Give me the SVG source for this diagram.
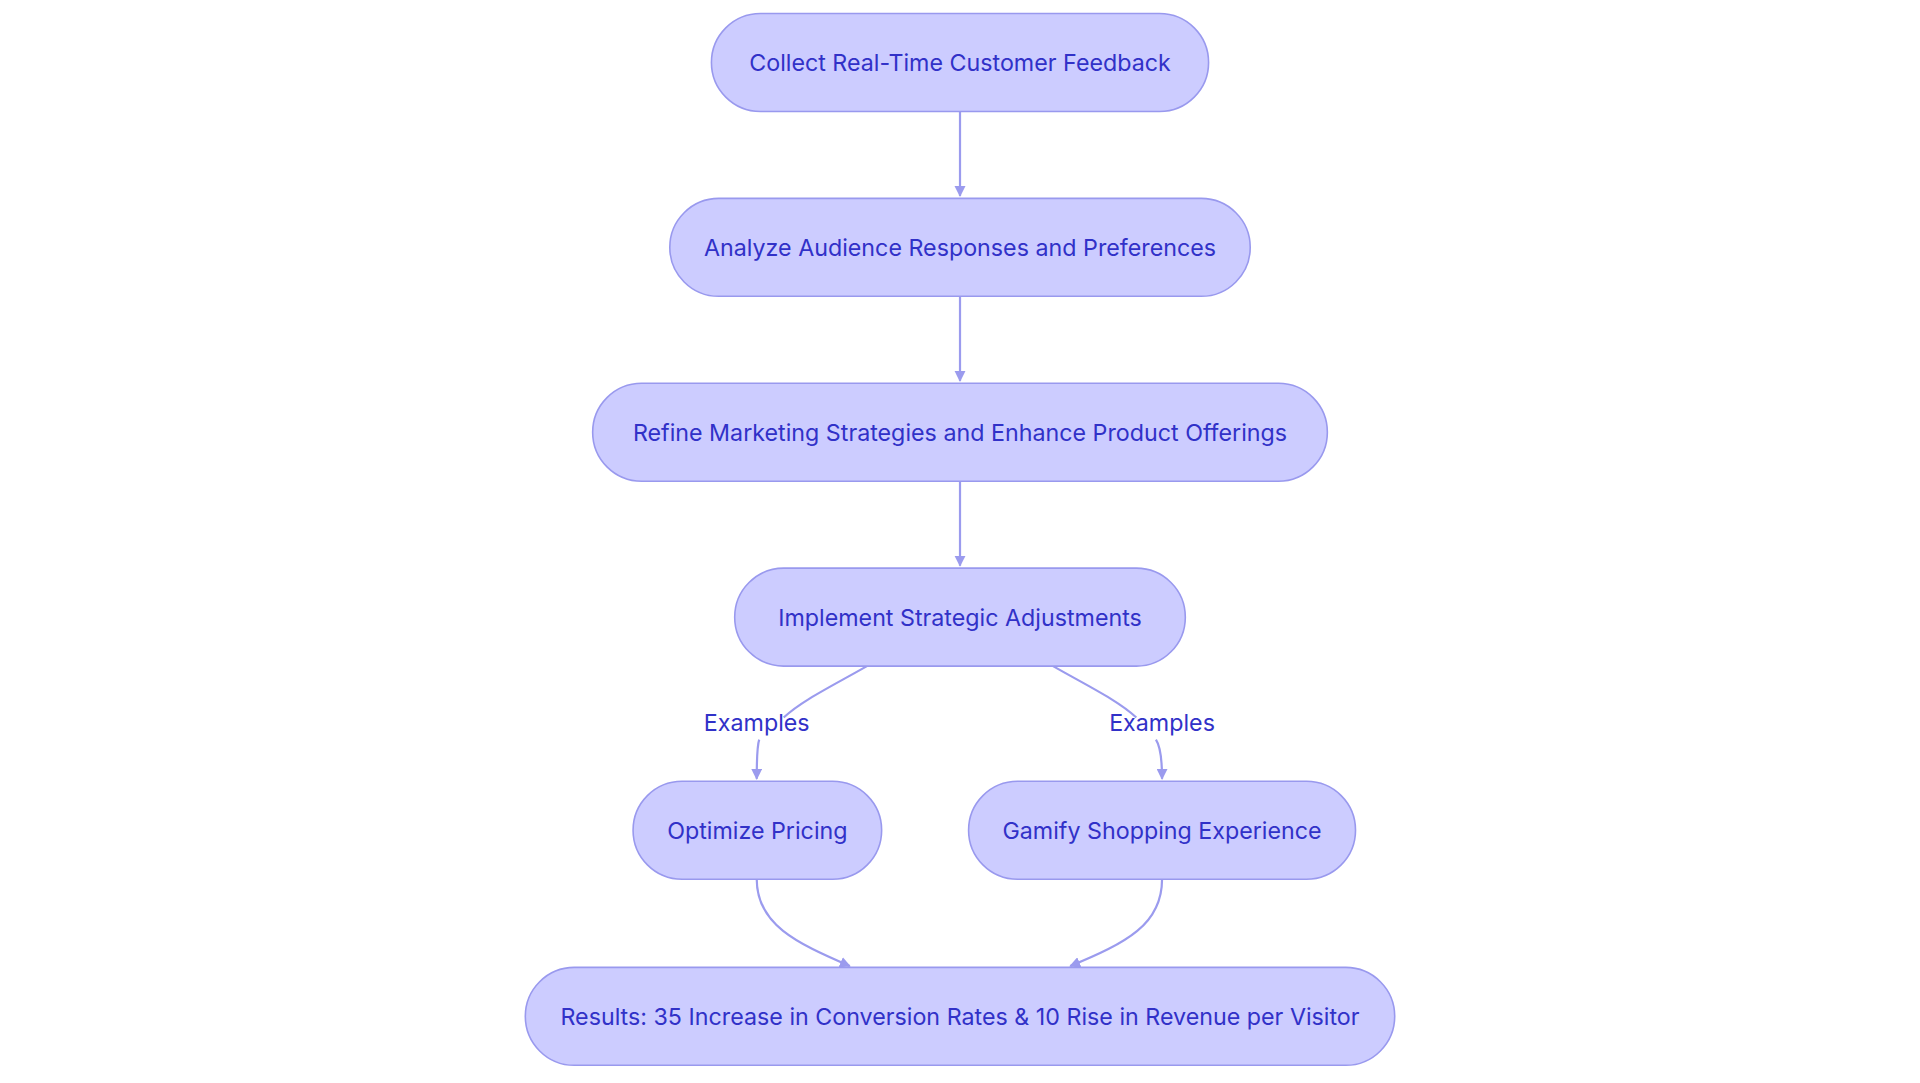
<svg xmlns="http://www.w3.org/2000/svg" width="1920" height="1083" viewBox="0 0 1920 1083">
<style>
.n{fill:#ccccff;stroke:#9999ee;stroke-width:1.3}
.t{font-family:Inter,"Noto Sans",sans-serif;font-size:19px;fill:#3131c8;text-anchor:middle;dominant-baseline:central}
.e{fill:none;stroke:#9b9bee;stroke-width:2.2}
</style>
<defs><marker id="a" viewBox="0 0 10 10" refX="9" refY="5" markerWidth="8" markerHeight="8" markerUnits="userSpaceOnUse" orient="auto"><path d="M0,0L10,5L0,10z" fill="#9b9bee"/></marker>
<marker id="b" viewBox="0 0 10 10" refX="9" refY="5" markerWidth="9" markerHeight="9" orient="auto" markerUnits="userSpaceOnUse"><path d="M0,0L10,5L0,10z" fill="#9b9bee"/></marker></defs>
<rect width="1920" height="1083" fill="#fff"/>
<g transform="scale(1.2245)">
<g id="edges">
<path class="e" d="M784,91V160" marker-end="url(#b)" style="stroke-width:1.8"/>
<path class="e" d="M784,242V311" marker-end="url(#b)" style="stroke-width:1.8"/>
<path class="e" d="M784,393V462" marker-end="url(#b)" style="stroke-width:1.8"/>
<path class="e" d="M708,544C680,560 655,572 640,586M620,604C618,610 618,620 618,636" marker-end="url(#b)" style="stroke-width:1.8"/>
<path class="e" d="M860,544C888,560 913,572 928,586M944,604C948,610 949,620 949,636" marker-end="url(#b)" style="stroke-width:1.8"/>
<path class="e" d="M618,718C618,755 650,770 694,789" marker-end="url(#b)" style="stroke-width:1.8"/>
<path class="e" d="M949,718C949,755 920,770 874,789" marker-end="url(#b)" style="stroke-width:1.8"/>
<text class="t" x="618" y="590">Examples</text>
<text class="t" x="949" y="590">Examples</text>
</g>
<g id="n1"><rect class="n" x="581" y="11" width="406" height="80" rx="40"/><text class="t" x="784" y="51">Collect Real-Time Customer Feedback</text></g>
<g id="n2"><rect class="n" x="547" y="162" width="474" height="80" rx="40"/><text class="t" x="784" y="202">Analyze Audience Responses and Preferences</text></g>
<g id="n3"><rect class="n" x="484" y="313" width="600" height="80" rx="40"/><text class="t" x="784" y="353">Refine Marketing Strategies and Enhance Product Offerings</text></g>
<g id="n4"><rect class="n" x="600" y="464" width="368" height="80" rx="40"/><text class="t" x="784" y="504">Implement Strategic Adjustments</text></g>
<g id="n5"><rect class="n" x="517" y="638" width="203" height="80" rx="40"/><text class="t" x="618.5" y="678">Optimize Pricing</text></g>
<g id="n6"><rect class="n" x="791" y="638" width="316" height="80" rx="40"/><text class="t" x="949" y="678">Gamify Shopping Experience</text></g>
<g id="n7"><rect class="n" x="429" y="790" width="710" height="80" rx="40"/><text class="t" x="784" y="830">Results: 35 Increase in Conversion Rates &amp; 10 Rise in Revenue per Visitor</text></g>
</g>
</svg>
